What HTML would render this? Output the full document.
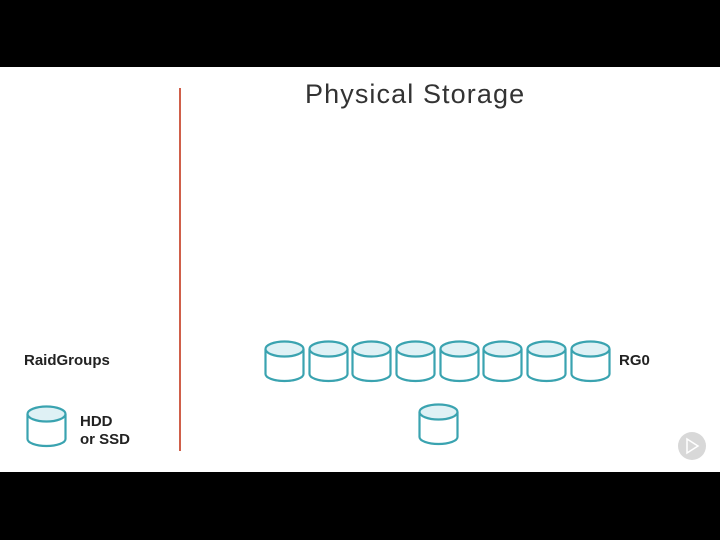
<!DOCTYPE html>
<html><head><style>
body{margin:0;width:720px;height:540px;background:#000;position:relative;overflow:hidden;font-family:"Liberation Sans",sans-serif}
#w{position:absolute;left:0;top:67px;width:720px;height:405px;background:#fff}
.t{position:absolute;color:#222}
</style></head><body>
<div id="w"></div>
<div class="t" style="left:305px;top:79px;font-size:27px;letter-spacing:1.1px;color:#333">Physical Storage</div>
<div class="t" style="left:24px;top:352px;font-size:15px;font-weight:bold">RaidGroups</div>
<div class="t" style="left:80px;top:413px;font-size:15px;font-weight:bold;line-height:18px">HDD<br>or SSD</div>
<div class="t" style="left:619px;top:352px;font-size:15px;font-weight:bold">RG0</div>
<svg width="720" height="540" style="position:absolute;left:0;top:0">
<defs><g id="c">
<path d="M1.5 9 V34 A19 7 0 0 0 39.5 34 V9" fill="#fff" stroke="#3aa3b0" stroke-width="2.2"/>
<ellipse cx="20.5" cy="9" rx="19" ry="7.5" fill="#dff1f5" stroke="#3aa3b0" stroke-width="2.2"/>
</g></defs>
<line x1="180" y1="88" x2="180" y2="451" stroke="#d0604a" stroke-width="2"/>
<use href="#c" x="264" y="340"/><use href="#c" x="308" y="340"/><use href="#c" x="351" y="340"/><use href="#c" x="395" y="340"/>
<use href="#c" x="439" y="340"/><use href="#c" x="482" y="340"/><use href="#c" x="526" y="340"/><use href="#c" x="570" y="340"/>
<use href="#c" x="418" y="403"/><use href="#c" x="26" y="405"/>
<circle cx="692" cy="446" r="14" fill="#d8d8d8"/>
<path d="M687 439 L698 446 L687 453 Z" fill="none" stroke="#fff" stroke-width="1.5"/>
</svg>
</body></html>
